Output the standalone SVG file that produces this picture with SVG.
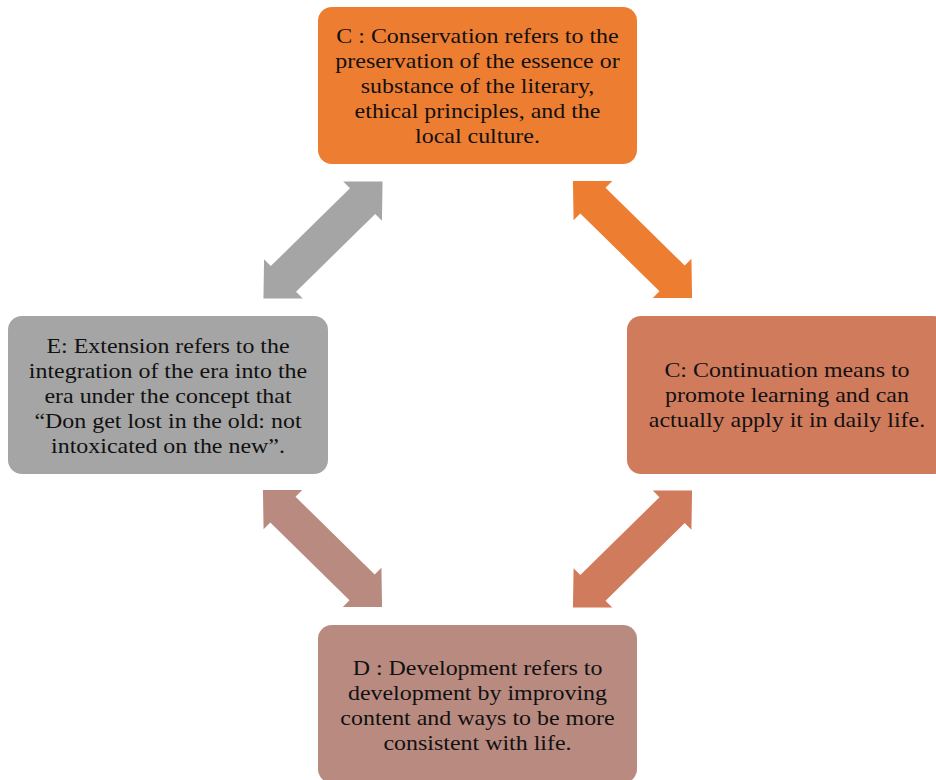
<svg xmlns="http://www.w3.org/2000/svg" width="936" height="780" viewBox="0 0 936 780">
<defs>
<style>
.t{font-family:"Liberation Serif","Times New Roman",serif;font-size:21px;fill:#111;text-anchor:middle}
</style>
<path id="dbl" d="M-83.5,0 L-55.5,-27.6 L-55.5,-18 L55.5,-18 L55.5,-27.6 L83.5,0 L55.5,27.6 L55.5,18 L-55.5,18 L-55.5,27.6 Z"/>
</defs>
<rect width="936" height="780" fill="#fff"/>
<g id="connectors">
<use href="#dbl" fill="#A5A5A5" transform="translate(323,240) rotate(-44.5)"/>
<use href="#dbl" fill="#ED7D31" transform="translate(632.5,239.5) rotate(44.5)"/>
<use href="#dbl" fill="#D17B5D" transform="translate(632.5,549) rotate(-44.5)"/>
<use href="#dbl" fill="#B98A80" transform="translate(322.5,548.5) rotate(44.5)"/>
</g>
<g id="node-conservation">
<rect x="318" y="7" width="319" height="157" rx="14" fill="#ED7D31"/>
<g transform="translate(477.5,0) scale(1.14,1)">
<text class="t" x="0" y="43">C : Conservation refers to the</text>
<text class="t" x="0" y="68">preservation of the essence or</text>
<text class="t" x="0" y="93">substance of the literary,</text>
<text class="t" x="0" y="118">ethical principles, and the</text>
<text class="t" x="0" y="143">local culture.</text>
</g>
</g>
<g id="node-extension">
<rect x="8" y="316" width="320" height="158" rx="14" fill="#A5A5A5"/>
<g transform="translate(168,0) scale(1.14,1)">
<text class="t" x="0" y="353">E: Extension refers to the</text>
<text class="t" x="0" y="378">integration of the era into the</text>
<text class="t" x="0" y="403">era under the concept that</text>
<text class="t" x="0" y="428">“Don get lost in the old: not</text>
<text class="t" x="0" y="453">intoxicated on the new”.</text>
</g>
</g>
<g id="node-continuation">
<rect x="627" y="316" width="320" height="158" rx="14" fill="#D17B5D"/>
<g transform="translate(787,0) scale(1.14,1)">
<text class="t" x="0" y="377">C: Continuation means to</text>
<text class="t" x="0" y="402">promote learning and can</text>
<text class="t" x="0" y="427">actually apply it in daily life.</text>
</g>
</g>
<g id="node-development">
<rect x="318" y="625" width="319" height="158" rx="14" fill="#B98A80"/>
<g transform="translate(477.5,0) scale(1.14,1)">
<text class="t" x="0" y="675">D : Development refers to</text>
<text class="t" x="0" y="700">development by improving</text>
<text class="t" x="0" y="725">content and ways to be more</text>
<text class="t" x="0" y="750">consistent with life.</text>
</g>
</g>
</svg>
